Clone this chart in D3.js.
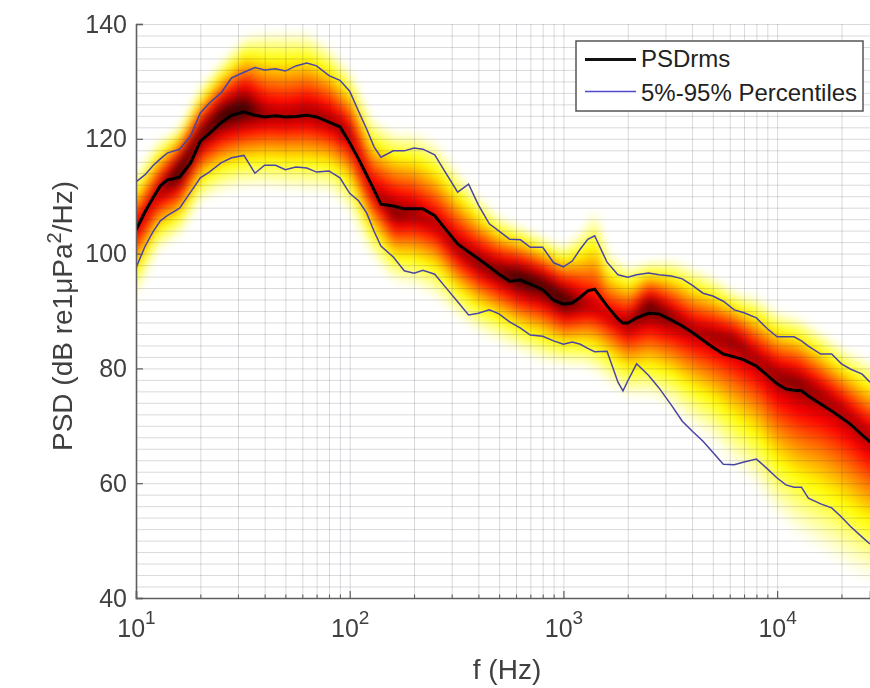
<!DOCTYPE html>
<html>
<head>
<meta charset="utf-8">
<script src="https://cdn.jsdelivr.net/npm/d3@7"></script>
<style>
  html, body { margin: 0; padding: 0; background: white; overflow: hidden; }
  svg { display: block; font-family: "Liberation Sans", Arial, sans-serif; filter: blur(0.5px); }
</style>
</head>
<body>
<div id="chart"></div>
<script>
// line series (Hz / dB)
const freqs = [10,11,12,13,14,16,18,20,22,25,28,32,36,40,45,50,56,63,70,80,90,
  100,110,120,130,140,160,180,200,220,250,280,320,360,400,450,500,560,630,700,800,900,
  1000,1100,1200,1300,1400,1600,1800,1900,2000,2200,2500,2800,3200,3600,4000,4500,5000,5600,6300,7000,8000,9000,
  10000,11000,12000,13000,14000,16000,18000,20000,22000,25000,27200];
const psdRms = [104.1,107.2,109.7,111.8,112.8,113.3,115.8,119.6,120.9,122.8,124.1,124.7,124.1,123.8,124.0,123.8,123.9,124.1,123.8,122.9,122.1,
  119.3,116.5,113.7,111.1,108.6,108.3,107.8,107.8,107.8,106.6,104.3,101.7,100.3,99.1,97.7,96.4,95.2,95.4,94.7,93.7,91.9,
  91.2,91.4,92.4,93.5,93.8,90.9,88.6,87.9,87.9,88.8,89.6,89.5,88.4,87.4,86.3,84.9,83.7,82.5,82.0,81.5,80.4,78.8,
  77.3,76.4,76.2,76.1,75.2,73.8,72.6,71.4,70.3,68.4,67.2];
const p95 = [112.5,113.7,115.3,116.5,117.5,118.2,120.5,124.5,126.2,128.0,130.6,131.6,132.4,132.0,132.2,131.8,132.7,133.2,132.7,131.0,130.2,
  128.3,124.8,121.7,118.6,116.8,117.9,117.9,118.4,118.2,117.2,114.2,110.7,112.1,108.5,105.2,103.9,102.5,102.4,101.1,101.1,98.4,
  97.7,98.7,100.8,102.5,103.1,98.5,96.3,96.1,95.9,96.3,96.6,96.3,96.1,95.6,94.5,93.1,92.6,91.7,90.2,89.7,88.8,86.9,
  85.5,85.5,85.5,84.8,83.9,82.5,82.5,80.8,79.9,79.0,77.6];
const p5 = [97.5,101.2,103.8,105.7,106.6,107.9,110.7,113.2,114.2,115.8,116.7,117.1,114.0,115.4,115.4,114.6,115.1,114.9,114.2,114.4,113.2,
  110.5,109.2,107.1,103.9,101.3,99.4,97.0,96.6,97.1,96.4,94.2,91.6,89.3,89.6,90.2,89.5,88.1,87.0,85.8,85.6,84.8,
  84.2,84.6,84.2,83.5,82.9,83.0,77.6,76.1,77.8,80.8,78.8,76.6,73.6,70.8,69.1,67.3,65.4,63.3,63.2,63.7,64.2,62.5,
  60.9,59.7,59.3,59.3,57.4,56.4,55.7,54.1,52.5,50.6,49.4];

// density band: ridge, upper/lower fade-out and ridge darkness
const heatFreq = [10,12.5,16,20,25,32,40,50,63,80,100,125,160,200,250,320,400,500,630,800,
  1000,1250,1400,1600,2000,2500,3200,4000,5000,6300,8000,10000,12500,16000,20000,27200];
const heatMode = [104.4,110.5,114.6,120.7,124.1,125.4,124.1,123.8,124.5,123.3,120.7,111.4,107.1,106.9,105.2,101.0,98.5,96.8,95.7,94.5,
  91.9,91.0,90.5,89.3,87.6,91.0,88.8,86.7,85.8,84.9,81.8,78.8,77.6,75.4,72.8,68.0];
const heatTop = [114.2,119.8,122.4,129.4,133.7,138.1,138.9,138.9,138.9,136.3,132.0,124.1,121.5,121.5,119.8,114.6,110.2,106.7,105.0,103.2,
  101.5,105.0,108.5,100.6,98.0,98.9,99.2,98.0,96.3,93.7,92.8,90.2,89.3,86.7,84.1,81.5];
const heatBottom = [91.9,99.8,102.7,108.5,110.2,111.1,111.1,110.7,110.2,110.2,106.7,99.2,94.5,93.7,91.9,88.4,85.8,84.1,82.3,80.6,
  80.1,79.7,78.8,77.1,74.5,74.5,72.8,69.3,66.7,62.3,58.8,53.6,50.1,47.5,44.9,42.3];
const heatPeak = [0.72,0.76,0.98,0.88,0.95,0.95,0.78,0.76,0.78,0.78,0.76,0.72,0.84,0.78,0.74,0.78,0.82,0.86,0.95,0.92,
  0.95,0.76,0.72,0.72,0.78,0.9,0.82,0.76,0.78,0.8,0.76,0.8,0.82,0.78,0.76,0.76];

const majorX = [10,100,1000,10000];
const minorX = [20,30,40,50,60,70,80,90,200,300,400,500,600,700,800,900,
  2000,3000,4000,5000,6000,7000,8000,9000,20000];
const yTicks = [40,60,80,100,120,140];
const yGrid = d3.range(40,141,2);

const width = 870, height = 688,
  plotLeft = 136, plotRight = 870, plotTop = 24, plotBottom = 598;

const x = d3.scaleLog().domain([10,27200]).range([plotLeft,plotRight]);
const y = d3.scaleLinear().domain([40,140]).range([plotBottom,plotTop]);

const svg = d3.select("#chart").append("svg")
  .attr("width", width)
  .attr("height", height);

svg.append("clipPath").attr("id","plot")
  .append("rect")
  .attr("x",plotLeft).attr("y",plotTop)
  .attr("width",plotRight-plotLeft).attr("height",plotBottom-plotTop);

// ---- density image
const pad = 12;
const hot = d3.scaleLinear()
  .domain([0,0.25,0.625,1])
  .range(["#ffffff","#ffff00","#ff0000","#000000"])
  .clamp(true);
const toLog = (vals) => d3.scaleLog().domain(heatFreq).range(vals).clamp(true);
const modeAt = toLog(heatMode), topAt = toLog(heatTop), botAt = toLog(heatBottom), peakAt = toLog(heatPeak);

const w = plotRight-plotLeft+2*pad, h = plotBottom-plotTop+2*pad;
const raw = document.createElement("canvas");
raw.width = w; raw.height = h;
const rawCtx = raw.getContext("2d");
const img = rawCtx.createImageData(w,h);
for (let i=0;i<w;i++) {
  const f = x.invert(plotLeft-pad+i);
  const m = modeAt(f), tp = topAt(f), bt = botAt(f), pk = peakAt(f);
  for (let j=0;j<h;j++) {
    const db = y.invert(plotTop-pad+j);
    // long lower tail fades faster than the upper side
    const u = db>m ? (db-m)/(tp-m) : (m-db)/(m-bt);
    const t = pk*Math.pow(Math.max(0,1-u), db>m ? 1.05 : 1.3);
    const c = d3.rgb(hot(t));
    const k = (j*w+i)*4;
    img.data[k]=c.r; img.data[k+1]=c.g; img.data[k+2]=c.b; img.data[k+3]=255;
  }
}
rawCtx.putImageData(img,0,0);
const smooth = document.createElement("canvas");
smooth.width = w; smooth.height = h;
const smoothCtx = smooth.getContext("2d");
smoothCtx.filter = "blur(5px)";
smoothCtx.drawImage(raw,0,0);

svg.append("image")
  .attr("x",plotLeft-pad).attr("y",plotTop-pad)
  .attr("width",w).attr("height",h)
  .attr("clip-path","url(#plot)")
  .attr("href",smooth.toDataURL());

// ---- grid
svg.append("g")
  .attr("transform",`translate(0,${plotBottom})`)
  .call(d3.axisBottom(x).tickValues(majorX.concat(minorX)).tickSize(-(plotBottom-plotTop)).tickFormat(""))
  .call(g => g.select(".domain").remove())
  .selectAll("line").attr("stroke","#30304a").attr("stroke-opacity",0.18);
svg.append("g")
  .attr("transform",`translate(${plotLeft},0)`)
  .call(d3.axisLeft(y).tickValues(yGrid).tickSize(-(plotRight-plotLeft)).tickFormat(""))
  .call(g => g.select(".domain").remove())
  .selectAll("line").attr("stroke","#30304a").attr("stroke-opacity",0.18);

// ---- lines
const line = d3.line()
  .x((d,i) => x(freqs[i]))
  .y(d => y(d));
const lines = svg.append("g").attr("clip-path","url(#plot)").attr("fill","none");
lines.append("path").attr("d",line(p95)).attr("stroke","#4a45a5").attr("stroke-width",1.5);
lines.append("path").attr("d",line(p5)).attr("stroke","#4a45a5").attr("stroke-width",1.5);
lines.append("path").attr("d",line(psdRms)).attr("stroke","#000").attr("stroke-width",3);

// ---- axes
const axisColor = "#5f5f5f", textColor = "#404040";

const xAxis = svg.append("g")
  .attr("transform",`translate(0,${plotBottom})`)
  .call(d3.axisBottom(x).tickValues(majorX).tickSize(-7).tickPadding(21).tickFormat(""));
xAxis.select(".domain").attr("stroke",axisColor).attr("stroke-width",1.6);
xAxis.selectAll("line").attr("stroke",axisColor).attr("stroke-width",1.2);
xAxis.selectAll("text")
  .attr("font-size",25).attr("fill",textColor)
  .each(function(d) {
    const t = d3.select(this);
    t.append("tspan").text("10");
    t.append("tspan").attr("dy",-13).attr("font-size",19).text(Math.round(Math.log10(d)));
  });

svg.append("g")
  .attr("transform",`translate(0,${plotBottom})`)
  .call(d3.axisBottom(x).tickValues(minorX).tickSize(-3.5).tickFormat(""))
  .call(g => g.select(".domain").remove())
  .selectAll("line").attr("stroke",axisColor).attr("stroke-width",1.1);

const yAxis = svg.append("g")
  .attr("transform",`translate(${plotLeft},0)`)
  .call(d3.axisLeft(y).tickValues(yTicks).tickSize(-7).tickPadding(9));
yAxis.select(".domain").attr("stroke",axisColor).attr("stroke-width",1.6);
yAxis.selectAll("line").attr("stroke",axisColor).attr("stroke-width",1.2);
yAxis.selectAll("text").attr("font-size",25).attr("fill",textColor);

svg.append("text")
  .attr("x",507).attr("y",679)
  .attr("text-anchor","middle")
  .attr("font-size",28).attr("fill",textColor)
  .text("f (Hz)");

const yLabel = svg.append("text")
  .attr("transform","translate(72,316) rotate(-90)")
  .attr("text-anchor","middle")
  .attr("font-size",28).attr("fill",textColor);
yLabel.append("tspan").text("PSD (dB re1μPa");
yLabel.append("tspan").attr("dy",-11).attr("font-size",20).text("2");
yLabel.append("tspan").attr("dy",11).text("/Hz)");

// ---- legend
const legend = svg.append("g");
legend.append("rect")
  .attr("x",576).attr("y",41).attr("width",287).attr("height",70)
  .attr("fill","white").attr("stroke","#555").attr("stroke-width",1.5);
const legendItems = [
  {label:"PSDrms", color:"#111", size:3, y:59.5, text:67},
  {label:"5%-95% Percentiles", color:"#4f48c8", size:1.5, y:91.5, text:101}
];
legend.selectAll("line").data(legendItems).join("line")
  .attr("x1",585).attr("x2",636)
  .attr("y1",d => d.y).attr("y2",d => d.y)
  .attr("stroke",d => d.color).attr("stroke-width",d => d.size);
legend.selectAll("text").data(legendItems).join("text")
  .attr("x",641).attr("y",d => d.text)
  .attr("font-size",24).attr("fill","#222")
  .text(d => d.label);
</script>
</body>
</html>
